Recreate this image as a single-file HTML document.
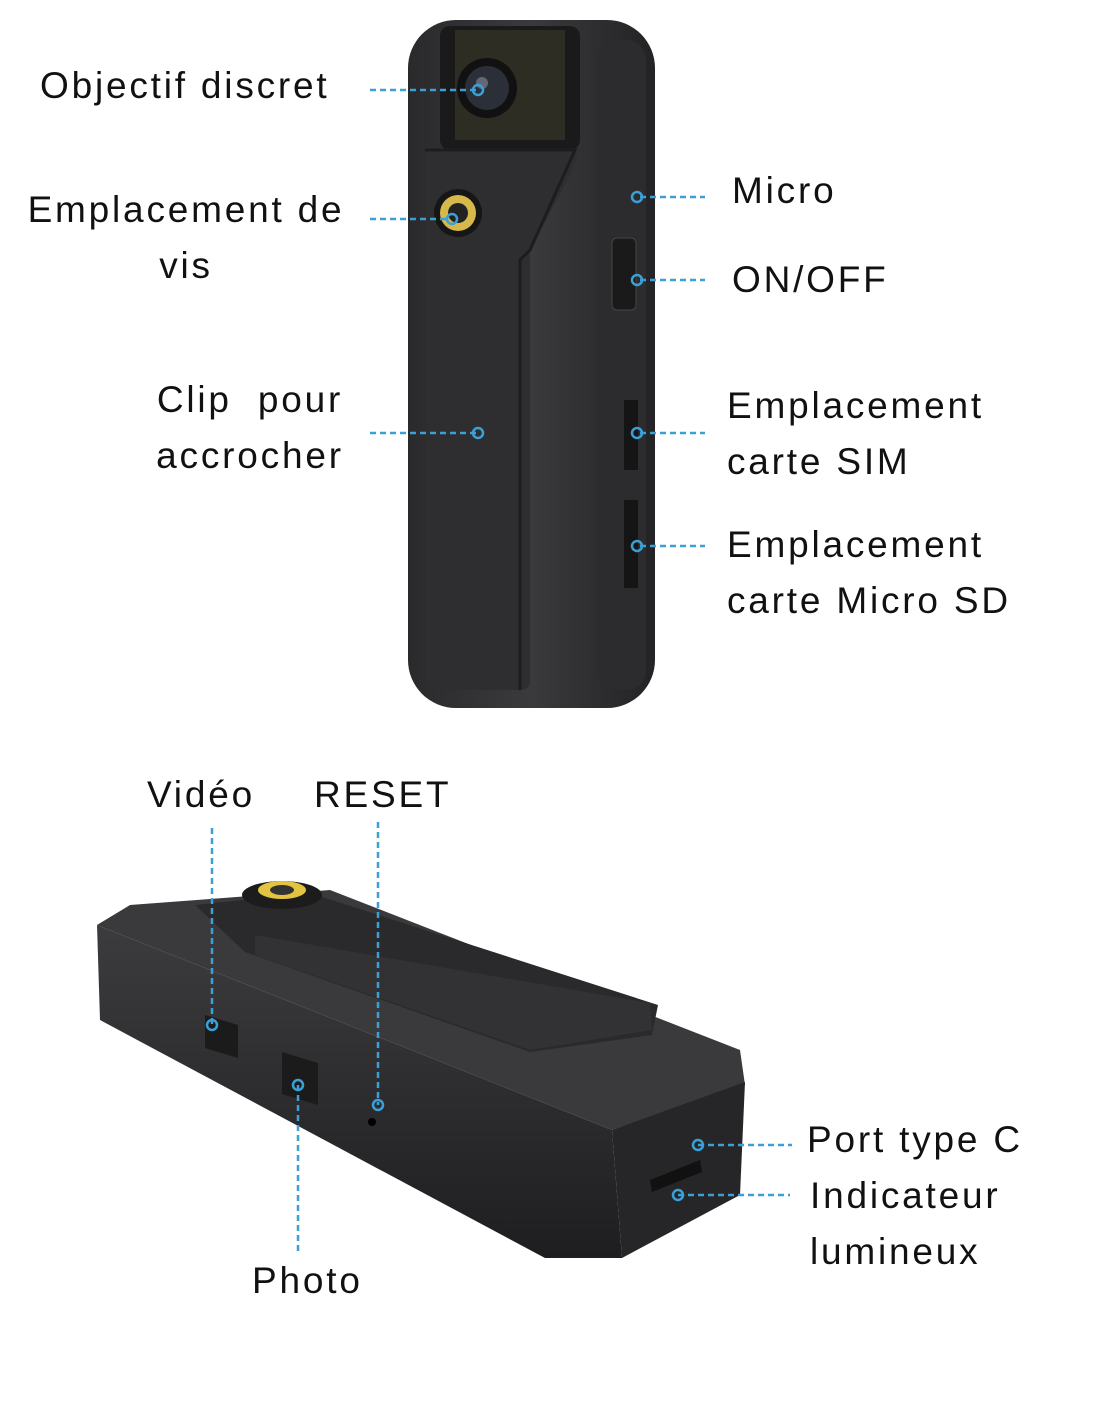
<!DOCTYPE html>
<html><head><meta charset="utf-8">
<style>
body{margin:0;background:#fff;}
.wrap{position:relative;width:1100px;height:1422px;overflow:hidden;background:#fff;font-family:"Liberation Sans",sans-serif;color:#111;}
.t{position:absolute;font-size:37px;line-height:56px;white-space:nowrap;letter-spacing:2.8px;}
svg{position:absolute;left:0;top:0;}
</style></head><body><div class="wrap">
<svg width="1100" height="1422" viewBox="0 0 1100 1422">
<defs>
<linearGradient id="g1" x1="0" x2="1"><stop offset="0" stop-color="#2a2a2c"/><stop offset=".5" stop-color="#3a3a3c"/><stop offset="1" stop-color="#232325"/></linearGradient>
<linearGradient id="g2" x1="0" y1="0" x2="0" y2="1"><stop offset="0" stop-color="#3c3c3e"/><stop offset="1" stop-color="#1e1e20"/></linearGradient>
</defs>
<rect x="408" y="20" width="247" height="688" rx="48" fill="url(#g1)"/>
<rect x="596" y="40" width="50" height="650" rx="20" fill="#2c2c2e"/>
<rect x="440" y="26" width="140" height="124" rx="10" fill="#1a1a1a"/>
<rect x="455" y="30" width="110" height="110" fill="#3b3a2a" opacity=".6"/>
<circle cx="487" cy="88" r="30" fill="#111"/>
<circle cx="487" cy="88" r="22" fill="#2a2f38"/>
<circle cx="482" cy="83" r="6" fill="#667"/>
<path d="M425 150 L575 150 Q580 155 570 175 L530 250 L530 680 Q530 690 520 690 L440 690 Q425 690 425 675 Z" fill="#2e2e30"/>
<path d="M425 150 L575 150 L530 250 L520 260 L520 690" fill="none" stroke="#1d1d1f" stroke-width="3"/>
<circle cx="458" cy="213" r="24" fill="#161616"/>
<circle cx="458" cy="213" r="18" fill="#d8b84a"/>
<circle cx="458" cy="213" r="10" fill="#222"/>
<rect x="612" y="238" width="24" height="72" rx="5" fill="#1a1a1a" stroke="#444"/>
<rect x="624" y="400" width="14" height="70" fill="#151515"/>
<rect x="624" y="500" width="14" height="88" fill="#151515"/>
<polygon points="97,925 130,905 330,890 740,1050 745,1085 612,1130" fill="#3a3a3c"/>
<polygon points="97,925 612,1130 622,1258 545,1258 100,1020" fill="url(#g2)"/>
<polygon points="612,1130 745,1082 740,1195 622,1258" fill="#262628"/>
<polygon points="195,905 310,893 658,1005 652,1035 530,1052 245,952" fill="#2a2a2c"/>
<polygon points="255,935 650,1003 652,1030 530,1050 255,955" fill="#323234"/>
<ellipse cx="282" cy="895" rx="40" ry="14" fill="#1c1c1c"/>
<ellipse cx="282" cy="890" rx="24" ry="9" fill="#e2c440"/>
<ellipse cx="282" cy="890" rx="12" ry="5" fill="#333"/>
<polygon points="205,1015 238,1025 238,1058 205,1048" fill="#1b1b1b"/>
<polygon points="282,1052 318,1063 318,1105 282,1094" fill="#1b1b1b"/>
<circle cx="372" cy="1122" r="4" fill="#000"/>
<polygon points="650,1180 700,1160 702,1172 652,1192" fill="#111"/>
<g stroke="#3aa0d8" stroke-width="2.5" stroke-dasharray="6,4" fill="none">
<line x1="370" y1="90" x2="478" y2="90"/>
<line x1="370" y1="219" x2="450" y2="219"/>
<line x1="370" y1="433" x2="478" y2="433"/>
<line x1="640" y1="197" x2="705" y2="197"/>
<line x1="640" y1="280" x2="705" y2="280"/>
<line x1="640" y1="433" x2="705" y2="433"/>
<line x1="640" y1="546" x2="705" y2="546"/>
<line x1="212" y1="828" x2="212" y2="1025"/>
<line x1="378" y1="822" x2="378" y2="1105"/>
<line x1="298" y1="1085" x2="298" y2="1255"/>
<line x1="698" y1="1145" x2="792" y2="1145"/>
<line x1="678" y1="1195" x2="790" y2="1195"/>
</g>
<g stroke="#3aa0d8" stroke-width="2.5" fill="none">
<circle cx="478" cy="90" r="5"/><circle cx="452" cy="219" r="5"/><circle cx="478" cy="433" r="5"/>
<circle cx="637" cy="197" r="5"/><circle cx="637" cy="280" r="5"/><circle cx="637" cy="433" r="5"/><circle cx="637" cy="546" r="5"/>
<circle cx="212" cy="1025" r="5"/><circle cx="378" cy="1105" r="5"/><circle cx="298" cy="1085" r="5"/>
<circle cx="698" cy="1145" r="5"/><circle cx="678" cy="1195" r="5"/>
</g>
</svg>
<div class="t" style="left:40px;top:58px">Objectif discret</div>
<div class="t" style="left:-14px;top:182px;width:400px;text-align:center">Emplacement de<br>vis</div>
<div class="t" style="left:100px;top:372px;width:300px;text-align:center">Clip&nbsp; pour<br>accrocher</div>
<div class="t" style="left:732px;top:163px">Micro</div>
<div class="t" style="left:732px;top:252px">ON/OFF</div>
<div class="t" style="left:727px;top:378px">Emplacement<br>carte SIM</div>
<div class="t" style="left:727px;top:517px">Emplacement<br>carte Micro SD</div>
<div class="t" style="left:147px;top:767px">Vidéo</div>
<div class="t" style="left:314px;top:767px">RESET</div>
<div class="t" style="left:252px;top:1253px">Photo</div>
<div class="t" style="left:807px;top:1112px">Port type C</div>
<div class="t" style="left:810px;top:1168px">Indicateur<br>lumineux</div>
</div></body></html>
